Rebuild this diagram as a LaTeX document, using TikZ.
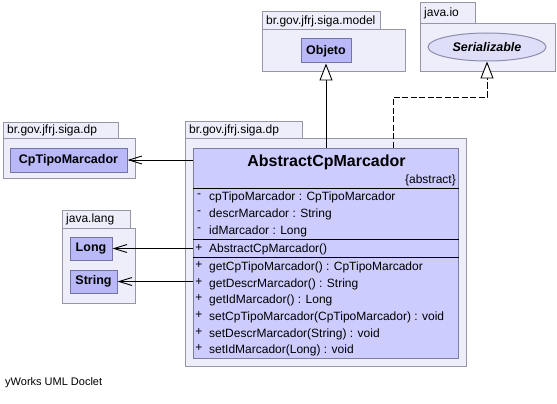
\documentclass[tikz,border=0pt]{standalone}
\usepackage{fontspec}
\setmainfont{Liberation Sans}
\usetikzlibrary{arrows.meta,shapes.geometric}

\definecolor{pkgfill}{RGB}{238,238,250}
\definecolor{pkgline}{RGB}{150,150,168}
\definecolor{clsfill}{RGB}{204,204,255}
\definecolor{clsline}{RGB}{125,125,160}
\definecolor{refill}{RGB}{185,185,250}
\definecolor{refline}{RGB}{115,115,165}
\definecolor{ifill}{RGB}{222,222,248}
\definecolor{iline}{RGB}{140,140,172}

\tikzset{
  pkgbody/.style={draw=pkgline, fill=pkgfill, line width=1pt},
  pkgname/.style={anchor=west, inner sep=0pt, font=\fontsize{12}{14}\selectfont},
  refbox/.style={draw=refline, fill=refill, line width=1pt, inner sep=0pt,
                 font=\bfseries\fontsize{12.5}{15}\selectfont},
  member/.style={anchor=west, inner sep=0pt, font=\fontsize{12}{14}\selectfont},
  vis/.style={anchor=center, inner sep=0pt, font=\fontsize{12}{14}\selectfont},
  sepline/.style={line width=1pt, black},
  dep/.style={line width=1pt, -{Straight Barb[length=13pt,width=8pt,line width=0.9pt]}},
  inherit/.style={line width=1pt, -{Triangle[length=17pt,width=13pt,fill=white,line width=0.9pt]}},
  realize/.style={line width=1pt, dash pattern=on 6pt off 2.5pt,
                  -{Triangle[length=17pt,width=13pt,fill=white,line width=0.9pt]}},
}

\begin{document}
\begin{tikzpicture}[x=1pt,y=-1pt]
\useasboundingbox[fill=white] (0,0) rectangle (557,404);

% package br.gov.jfrj.siga.model
\draw[pkgbody] (262,12) rectangle (380,30);
\draw[pkgbody] (262,30) rectangle (405,72);
\node[pkgname] (pmodel) at (266,21) {br.gov.jfrj.siga.model};
\node[refbox, minimum width=50pt, minimum height=24pt] (objeto) at (326,51) {Objeto};

% package java.io
\draw[pkgbody] (420,3) rectangle (475,24);
\draw[pkgbody] (420,24) rectangle (555,72);
\node[pkgname] (pio) at (424,13.5) {java.io};
\node[ellipse, draw=iline, fill=ifill, line width=1pt, inner sep=0pt,
      minimum width=118pt, minimum height=28pt,
      font=\bfseries\itshape\fontsize{12.5}{15}\selectfont] (serial) at (487,47) {Serializable};

% package br.gov.jfrj.siga.dp (left)
\draw[pkgbody] (3,122) rectangle (118,138);
\draw[pkgbody] (3,138) rectangle (135,178);
\node[pkgname] (pdpleft) at (7,130) {br.gov.jfrj.siga.dp};
\node[refbox, minimum width=117pt, minimum height=24pt] (cptipo) at (68.5,160) {CpTipoMarcador};

% package java.lang
\draw[pkgbody] (62,210) rectangle (130,228);
\draw[pkgbody] (62,228) rectangle (135,303);
\node[pkgname] (plang) at (66,219) {java.lang};
\node[refbox, minimum width=42pt, minimum height=23pt] (long) at (91,248.5) {Long};
\node[refbox, minimum width=47pt, minimum height=23pt] (string) at (93.5,281.5) {String};

% package br.gov.jfrj.siga.dp (main)
\draw[pkgbody] (185,121) rectangle (302,138);
\draw[pkgbody] (185,138) rectangle (466,366);
\node[pkgname] (pdp) at (189,130) {br.gov.jfrj.siga.dp};

% class AbstractCpMarcador
\node[draw=clsline, fill=clsfill, line width=1pt, inner sep=0pt,
      minimum width=265.5pt, minimum height=210pt] (cls) at (325.75,253) {};
\node[inner sep=0pt, font=\bfseries\fontsize{16}{19}\selectfont] (title) at (326.5,162) {AbstractCpMarcador};
\node[anchor=east, inner sep=0pt, font=\fontsize{12}{14}\selectfont] (abs) at (456,180) {\{abstract\}};
\draw[sepline] (193,188) -- (458.5,188);
\draw[sepline] (193,239) -- (458.5,239);
\draw[sepline] (193,257) -- (458.5,257);

% attributes
\node[vis] (v1) at (199,196) {-};
\node[member] (a1) at (209,197) {cpTipoMarcador : CpTipoMarcador};
\node[vis] (v2) at (199,213) {-};
\node[member] (a2) at (209,214) {descrMarcador : String};
\node[vis] (v3) at (199,230) {-};
\node[member] (a3) at (209,231) {idMarcador : Long};

% constructor
\node[vis] (v4) at (199,248) {+};
\node[member] (c1) at (209,249) {AbstractCpMarcador()};

% methods
\node[vis] (v5) at (199,265) {+};
\node[member] (m1) at (209,267) {getCpTipoMarcador() : CpTipoMarcador};
\node[vis] (v6) at (199,282) {+};
\node[member] (m2) at (209,284) {getDescrMarcador() : String};
\node[vis] (v7) at (199,298) {+};
\node[member] (m3) at (209,300) {getIdMarcador() : Long};
\node[vis] (v8) at (199,315) {+};
\node[member] (m4) at (209,317) {setCpTipoMarcador(CpTipoMarcador) : void};
\node[vis] (v9) at (199,332) {+};
\node[member] (m5) at (209,334) {setDescrMarcador(String) : void};
\node[vis] (v10) at (199,348) {+};
\node[member] (m6) at (209,350) {setIdMarcador(Long) : void};

% connectors
\draw[inherit] (objeto.south |- cls.north) -- (objeto.south);
\coordinate (bendA) at (393,97);
\coordinate (bendB) at (487,97);
\draw[realize] (bendA |- cls.north) -- (bendA) -- (bendB) -- (serial.south);
\draw[dep] (cptipo.east -| cls.west) -- (cptipo.east);
\draw[dep] (long.east -| cls.west) -- (long.east);
\draw[dep] (string.east -| cls.west) -- (string.east);

% footer
\node[anchor=west, inner sep=0pt, font=\fontsize{11}{13}\selectfont] (footer) at (5,383) {yWorks UML Doclet};
\end{tikzpicture}
\end{document}
